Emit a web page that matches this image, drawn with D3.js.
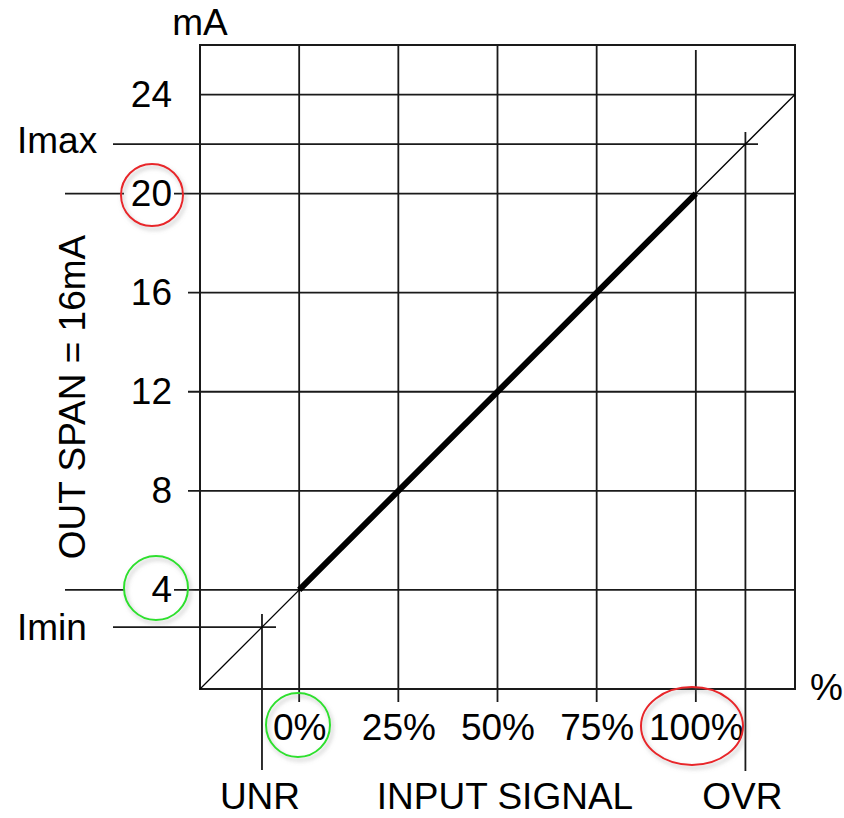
<!DOCTYPE html>
<html>
<head>
<meta charset="utf-8">
<script src="https://cdn.jsdelivr.net/npm/d3@7"></script>
<style>
  body { margin: 0; background: #fff; }
  svg text { font-family: "Liberation Sans", Arial, sans-serif; fill: #000; }
</style>
</head>
<body>
<svg id="chart" width="844" height="818"></svg>
<script>
// input signal ticks (%) and output ticks (mA)
var xTicks = [0, 25, 50, 75, 100];
var yTicks = [4, 8, 12, 16, 20, 24];
// working range: 0% -> 4 mA, 100% -> 20 mA
var spanIn = [0, 100];
var spanOut = [4, 20];
// extended (ideal) characteristic over the whole box
var extIn = [-25, 125];
var extOut = [0, 24];
// limits
var iMin = 2.5, iMax = 22;
var unrPct = -9.375, ovrPct = 112.5;

var svg = d3.select("#chart");
var x = d3.scaleLinear().domain([-25, 125]).range([200, 795]);
var y = d3.scaleLinear().domain([0, 26]).range([689, 45]);

var ink = "#1a1a1a";

var defs = svg.append("defs");
var f = defs.append("filter").attr("id", "shadow")
    .attr("x", "-30%").attr("y", "-30%").attr("width", "160%").attr("height", "160%");
f.append("feDropShadow").attr("dx", 2).attr("dy", 3).attr("stdDeviation", 2)
    .attr("flood-color", "#888").attr("flood-opacity", 0.55);

// horizontal grid lines, different lengths like the drawing
var hLines = [
    { v: 24, x1: 200, x2: 795 },
    { v: iMax, x1: 113, x2: 758 },
    { v: 20, x1: 65, x2: 795 },
    { v: 16, x1: 188, x2: 795 },
    { v: 12, x1: 188, x2: 795 },
    { v: 8, x1: 188, x2: 795 },
    { v: 4, x1: 65, x2: 795 },
    { v: iMin, x1: 113, x2: 276 }
];
svg.append("g").selectAll("line").data(hLines).enter().append("line")
    .attr("x1", function (d) { return d.x1; })
    .attr("x2", function (d) { return d.x2; })
    .attr("y1", function (d) { return y(d.v); })
    .attr("y2", function (d) { return y(d.v); })
    .attr("stroke", ink).attr("stroke-width", 1.8);

// vertical grid lines
var vLines = xTicks.map(function (v) { return { v: v, y1: v == 100 ? 50 : 45, y2: 702 }; });
vLines.push({ v: unrPct, y1: 614, y2: 770 });
vLines.push({ v: ovrPct, y1: 132, y2: 771 });
svg.append("g").selectAll("line").data(vLines).enter().append("line")
    .attr("x1", function (d) { return x(d.v); })
    .attr("x2", function (d) { return x(d.v); })
    .attr("y1", function (d) { return d.y1; })
    .attr("y2", function (d) { return d.y2; })
    .attr("stroke", ink).attr("stroke-width", 1.8);

// frame
svg.append("rect")
    .attr("x", x(-25)).attr("y", y(26))
    .attr("width", x(125) - x(-25)).attr("height", y(0) - y(26))
    .attr("fill", "none").attr("stroke", ink).attr("stroke-width", 2);

// thin ideal characteristic
svg.append("line")
    .attr("x1", x(extIn[0])).attr("y1", y(extOut[0]))
    .attr("x2", x(extIn[1])).attr("y2", y(extOut[1]))
    .attr("stroke", "#000").attr("stroke-width", 1.3);

// thick working range
svg.append("line")
    .attr("x1", x(spanIn[0])).attr("y1", y(spanOut[0]))
    .attr("x2", x(spanIn[1])).attr("y2", y(spanOut[1]))
    .attr("stroke", "#000").attr("stroke-width", 6);

// white gaps behind the circled labels
[20, 4].forEach(function (v) {
    svg.append("rect").attr("x", 124).attr("y", y(v) - 4).attr("width", 50).attr("height", 8)
        .attr("fill", "#fff");
});

// axes (labels only)
var yAxis = svg.append("g").attr("transform", "translate(200,0)")
    .call(d3.axisLeft(y).tickValues(yTicks).tickSize(0).tickPadding(28));
yAxis.select(".domain").remove();
yAxis.selectAll("text").attr("font-size", 37).attr("font-family", "Liberation Sans, Arial, sans-serif").attr("fill", "#000");

var xAxis = svg.append("g").attr("transform", "translate(0,689)")
    .call(d3.axisBottom(x).tickValues(xTicks).tickFormat(function (d) { return d + "%"; })
        .tickSize(0).tickPadding(25));
xAxis.select(".domain").remove();
xAxis.selectAll("text").attr("font-size", 37).attr("font-family", "Liberation Sans, Arial, sans-serif").attr("fill", "#000");

// other texts
function label(t, px, py, anchor) {
    svg.append("text").attr("x", px).attr("y", py).attr("text-anchor", anchor || "start")
        .attr("font-size", 37).text(t);
}
label("mA", 200, 35, "middle");
label("Imax", 17, y(iMax) + 9);
label("Imin", 17, y(iMin) + 13);
label("%", 810, 700);
label("UNR", x(unrPct) - 2, 809, "middle");
label("INPUT SIGNAL", 505, 809, "middle");
label("OVR", x(ovrPct) - 3, 809, "middle");
svg.append("text").attr("transform", "translate(85,397) rotate(-90)")
    .attr("text-anchor", "middle").attr("font-size", 37).text("OUT SPAN = 16mA");

// highlight circles
var marks = [
    { cx: 152, cy: 195, rx: 31, ry: 31, c: "#e8262a" },
    { cx: 156, cy: 588, rx: 32, ry: 32, c: "#2fe02f" },
    { cx: 298, cy: 725, rx: 32, ry: 32, c: "#2fe02f" },
    { cx: 692, cy: 726, rx: 51, ry: 39, c: "#e8262a" }
];
svg.append("g").selectAll("ellipse").data(marks).enter().append("ellipse")
    .attr("cx", function (d) { return d.cx; })
    .attr("cy", function (d) { return d.cy; })
    .attr("rx", function (d) { return d.rx; })
    .attr("ry", function (d) { return d.ry; })
    .attr("fill", "none")
    .attr("stroke", function (d) { return d.c; })
    .attr("stroke-width", 2)
    .attr("filter", "url(#shadow)");
</script>
</body>
</html>
